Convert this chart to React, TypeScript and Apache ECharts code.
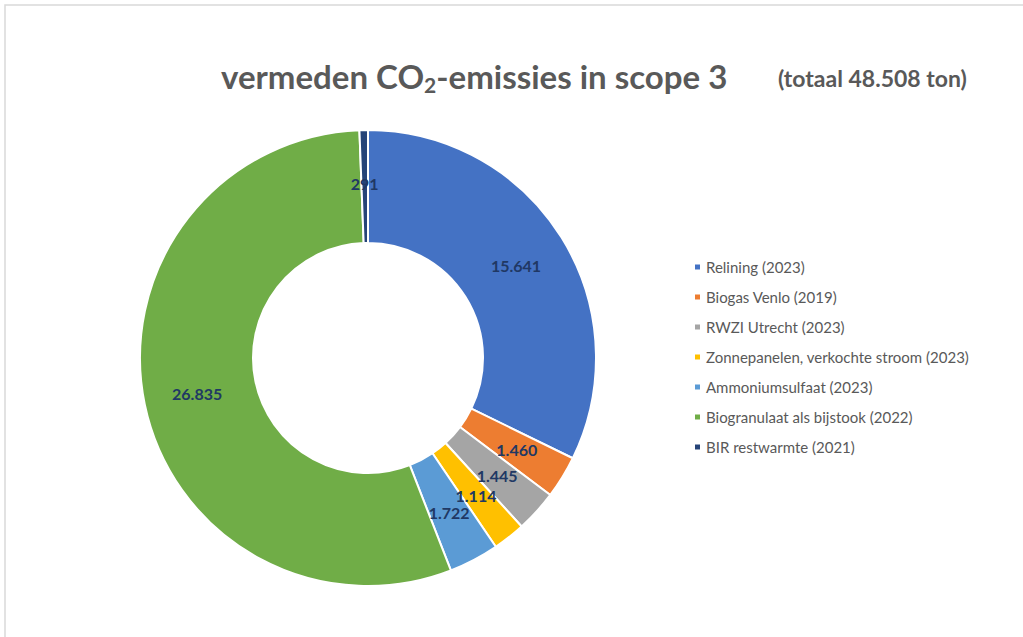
import React, { useEffect, useRef } from "react";
import * as echarts from "echarts";

const categories = [
  "Relining (2023)",
  "Biogas Venlo (2019)",
  "RWZI Utrecht (2023)",
  "Zonnepanelen, verkochte stroom (2023)",
  "Ammoniumsulfaat (2023)",
  "Biogranulaat als bijstook (2022)",
  "BIR restwarmte (2021)",
];
const values = [15641, 1460, 1445, 1114, 1722, 26835, 291];
const colors = ["#4472C4", "#ED7D31", "#A5A5A5", "#FFC000", "#5B9BD5", "#70AD47", "#264478"];

const fmt = (v: number) => v.toLocaleString("nl-NL");

export default function App() {
  const ref = useRef<HTMLDivElement>(null);
  useEffect(() => {
    document.body.style.margin = "0";
    const chart = echarts.init(ref.current!, undefined, { renderer: "svg" });
    chart.setOption({
      animation: false,
      backgroundColor: "#ffffff",
      title: [
        {
          text: "{a|vermeden CO}{s|2}{a|-emissies in scope 3}",
          left: 216,
          top: 51,
          textStyle: {
            rich: {
              a: { fontFamily: "Lato", fontWeight: "bold", fontSize: 33, color: "#595959" },
              s: { fontFamily: "Lato", fontWeight: "bold", fontSize: 21, color: "#595959", padding: [18, 0, 0, 0] },
            },
          },
        },
        {
          text: "(totaal 48.508 ton)",
          left: 773,
          top: 61,
          textStyle: { fontFamily: "Lato", fontWeight: "bold", fontSize: 23, color: "#595959" },
        },
      ],
      graphic: [
        {
          type: "rect",
          shape: { x: 5, y: 5, width: 1100, height: 700 },
          style: { fill: "none", stroke: "#d9d9d9", lineWidth: 1.5 },
          silent: true,
        },
      ],
      legend: {
        orient: "vertical",
        left: 688,
        top: 254,
        itemWidth: 7,
        itemHeight: 7,
        itemGap: 14,
        icon: "rect",
        textStyle: { fontFamily: "Lato", fontSize: 15, color: "#595959", lineHeight: 16 },
        data: categories,
      },
      series: [
        {
          type: "pie",
          center: [368, 358],
          radius: [115, 228],
          startAngle: 90,
          clockwise: true,
          avoidLabelOverlap: false,
          itemStyle: { borderColor: "#ffffff", borderWidth: 2 },
          label: {
            show: true,
            position: "inside",
            formatter: (p: any) => fmt(p.value),
            fontFamily: "Lato",
            fontWeight: "bold",
            fontSize: 16,
            color: "#203864",
          },
          labelLine: { show: false },
          emphasis: { disabled: true },
          data: categories.map((name, i) => ({
            name,
            value: values[i],
            itemStyle: { color: colors[i] },
          })),
        },
      ],
    });
    return () => chart.dispose();
  }, []);
  return <div ref={ref} style={{ width: 1023, height: 637 }} />;
}
